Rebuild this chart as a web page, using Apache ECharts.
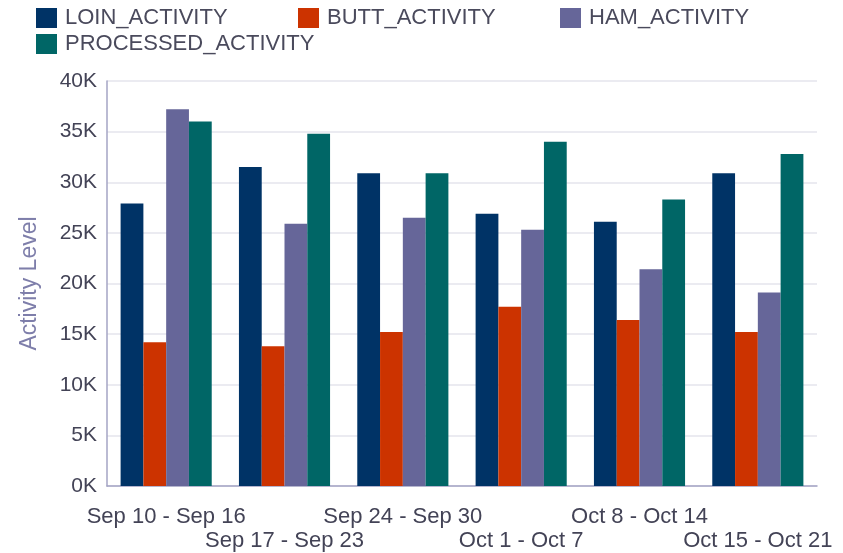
<!DOCTYPE html>
<html>
<head>
<meta charset="utf-8">
<script src="https://cdn.jsdelivr.net/npm/echarts@6/dist/echarts.min.js"></script>
<style>html,body{margin:0;padding:0;background:#fff}#c{width:843px;height:553px}</style>
</head>
<body>
<div id="c"></div>
<script>
const categories = ['Sep 10 - Sep 16','Sep 17 - Sep 23','Sep 24 - Sep 30','Oct 1 - Oct 7','Oct 8 - Oct 14','Oct 15 - Oct 21'];
const loinActivity = [27900, 31500, 30900, 26900, 26100, 30900];
const buttActivity = [14200, 13800, 15200, 17700, 16400, 15200];
const hamActivity = [37200, 25900, 26500, 25300, 21400, 19100];
const processedActivity = [36000, 34800, 30900, 34000, 28300, 32800];
const seriesNames = ['LOIN_ACTIVITY','BUTT_ACTIVITY','HAM_ACTIVITY','PROCESSED_ACTIVITY'];
const seriesColors = ['#003366','#cc3300','#666699','#006666'];
const yTicks = {min: 0, max: 40000, interval: 5000};

const font = 'Arial, "Liberation Sans", Helvetica, sans-serif';
const chart = echarts.init(document.getElementById('c'), null, {renderer: 'canvas'});
const dataSets = [loinActivity, buttActivity, hamActivity, processedActivity];
chart.setOption({
  animation: false,
  color: seriesColors,
  legend: {
    left: 31, top: 0, width: 800,
    itemWidth: 21, itemHeight: 20, itemGap: 0,
    icon: 'rect',
    textStyle: {fontFamily: font, fontSize: 22, color: '#4a4a5c', width: 233, overflow: 'none', padding: [0,0,0,3], lineHeight: 26},
    data: seriesNames
  },
  grid: {left: 107, right: 26, top: 81, bottom: 67},
  xAxis: {
    type: 'category',
    data: categories,
    axisLine: {lineStyle: {color: '#a4a4c4', width: 1.5}},
    axisTick: {show: false},
    axisLabel: {
      interval: 0, margin: 19, fontFamily: font, fontSize: 22, color: '#434356', lineHeight: 24,
      formatter: (v, i) => (i % 2 === 1 ? '\n' + v : v)
    }
  },
  yAxis: {
    type: 'value',
    min: yTicks.min, max: yTicks.max, interval: yTicks.interval,
    name: 'Activity Level', nameLocation: 'middle', nameGap: 66,
    nameTextStyle: {fontFamily: font, fontSize: 23, color: '#7e7eaa'},
    axisLine: {show: true, lineStyle: {color: '#a4a4c4', width: 1.5}},
    axisTick: {show: false},
    splitLine: {lineStyle: {color: '#e4e4ec', width: 1.5}},
    axisLabel: {fontFamily: font, fontSize: 21, color: '#434356', margin: 10, formatter: v => (v / 1000) + 'K'}
  },
  series: seriesNames.map((n, i) => ({
    name: n, type: 'bar', data: dataSets[i],
    barGap: '0%', barCategoryGap: '23%'
  }))
});
</script>
</body>
</html>
